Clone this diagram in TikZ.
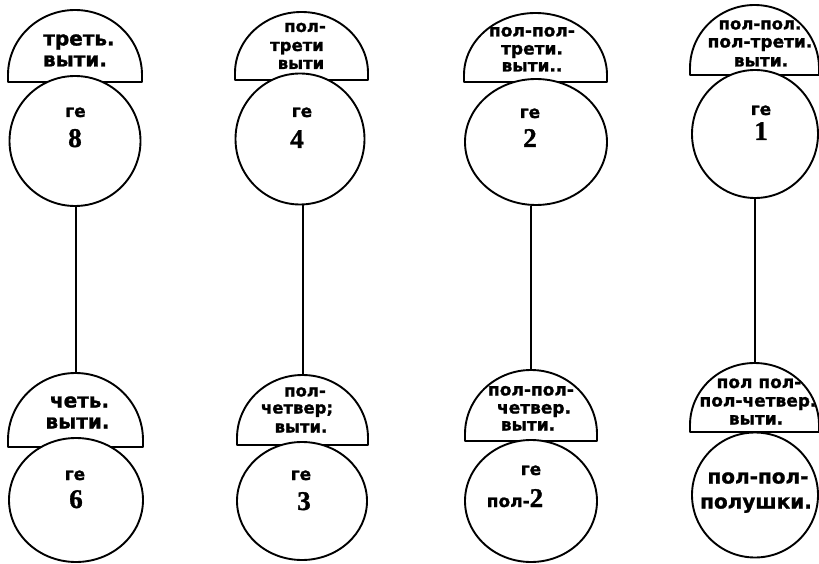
\documentclass[tikz,border=0pt]{standalone}
\usepackage{fontspec}
\setmainfont{DejaVu Sans}[BoldFeatures={FakeBold=1.2}]
\newfontfamily\digf{Liberation Serif}[BoldFeatures={FakeBold=1.2}]
\usetikzlibrary{shapes.geometric}
\tikzset{
  shp/.style={line width=1.9pt, fill=white, line join=round},
  circ/.style={ellipse, draw, line width=1.9pt, fill=white, inner sep=0pt},
  conn/.style={line width=2pt},
  lbl/.style={anchor=base, inner sep=0pt},
  fs/.style={font=\bfseries\fontsize{#1}{#1}\selectfont},
  dg/.style={font=\digf\bfseries\fontsize{27}{27}\selectfont}
}
% #1 name of top coordinate, #2 L, #3 R, #4 T, #5 B, #6 x radius, #7 y radius
\newcommand\mydome[7]{%
  \draw[shp] (#2,#5) -- ++(0,-7) arc[start angle=180,end angle=0,x radius=#6pt,y radius=#7pt] -- (#3,#5) -- cycle;
  \coordinate (#1) at ({(#2+#3)/2},#4);
}
\begin{document}
\begin{tikzpicture}[x=1pt,y=-1pt]
\useasboundingbox[fill=white] (0,0) rectangle (819,564);

% ---------- domes ----------
\mydome{d1t}{8}{142}{10}{82}{67}{65}
\mydome{d2t}{235}{368}{12}{80}{66.5}{61}
\mydome{d3t}{464}{607}{13}{82}{71.5}{62}
\mydome{d4t}{690}{819}{5}{75}{64.5}{63}
\mydome{d1b}{8}{143}{373}{447}{67.5}{67}
\mydome{d2b}{237}{368}{375}{445}{65.5}{63}
\mydome{d3b}{465}{597}{370}{441}{66}{64}
\mydome{d4b}{690}{819}{363}{432}{64.5}{62}

% ---------- circles ----------
\node[circ, minimum width=131pt, minimum height=130pt] (c1t) at (75,141) {};
\node[circ, minimum width=129pt, minimum height=131pt] (c2t) at (300,139) {};
\node[circ, minimum width=142pt, minimum height=126pt] (c3t) at (536,142) {};
\node[circ, minimum width=126pt, minimum height=128pt] (c4t) at (755,134) {};
\node[circ, minimum width=134pt, minimum height=124pt] (c1b) at (76,500) {};
\node[circ, minimum width=130pt, minimum height=118pt] (c2b) at (302,501) {};
\node[circ, minimum width=132pt, minimum height=122pt] (c3b) at (531,501) {};
\node[circ, minimum width=126pt, minimum height=125pt] (c4b) at (755,495) {};

% ---------- connectors ----------
\draw[conn] (d1b) -- (d1b |- c1t.south);
\draw[conn] (d2b) -- (d2b |- c2t.south);
\draw[conn] (d3b) -- (d3b |- c3t.south);
\draw[conn] (d4b) -- (d4b |- c4t.south);

% ---------- column 1 ----------
\node[lbl,fs=20] (a1) at (79,45.5) {треть.};
\node[lbl,fs=20] (a2) at (75,66.5) {выти.};
\node[lbl,fs=17] (a3) at (75.5,117) {ге};
\node[lbl,dg] (a4) at (75,147) {8};
\node[lbl,fs=20] (a5) at (79.5,407.5) {четь.};
\node[lbl,fs=20] (a6) at (77.5,428.5) {выти.};
\node[lbl,fs=17] (a7) at (75,480) {ге};
\node[lbl,dg] (a8) at (76,508) {6};

% ---------- column 2 ----------
\node[lbl,fs=16.5] (b1) at (305,32) {пол-};
\node[lbl,fs=16.5] (b2) at (297,51) {трети};
\node[lbl,fs=16.5] (b3) at (301,69) {выти};
\node[lbl,fs=17] (b4) at (302,117) {ге};
\node[lbl,dg] (b5) at (297,148) {4};
\node[lbl,fs=16.5] (b6) at (305,396.5) {пол-};
\node[lbl,fs=16.5] (b7) at (297,413.5) {четвер;};
\node[lbl,fs=16.5] (b8) at (301,432.5) {выти.};
\node[lbl,fs=17] (b9) at (301,480) {ге};
\node[lbl,dg] (b10) at (304,510) {3};

% ---------- column 3 ----------
\node[lbl,fs=17] (e1) at (532,36.5) {пол-пол-};
\node[lbl,fs=17] (e2) at (532,54.5) {трети.};
\node[lbl,fs=17] (e3) at (532,71.5) {выти..};
\node[lbl,fs=17] (e4) at (530,118) {ге};
\node[lbl,dg] (e5) at (530,147) {2};
\node[lbl,fs=17] (e6) at (531,395.5) {пол-пол-};
\node[lbl,fs=17] (e7) at (534,413.5) {четвер.};
\node[lbl,fs=17] (e8) at (528,430.5) {выти.};
\node[lbl,fs=17] (e9) at (531,475) {ге};
\node[lbl] (e10) at (515,507) {\bfseries\fontsize{17}{17}\selectfont пол-{\digf\fontsize{27}{27}\selectfont 2}};

% ---------- column 4 ----------
\node[lbl,fs=16.5] (f1) at (760,29.5) {пол-пол.};
\node[lbl,fs=17] (f2) at (760,47.5) {пол-трети.};
\node[lbl,fs=17] (f3) at (761,66.5) {выти.};
\node[lbl,fs=17] (f4) at (761,115) {ге};
\node[lbl,dg] (f5) at (761,140) {1};
\node[lbl,fs=17] (f6) at (759,388) {пол пол-};
\node[lbl,fs=17] (f7) at (758,406.5) {пол-четвер.};
\node[lbl,fs=17] (f8) at (756,424.5) {выти.};
\node[lbl,fs=20] (f9) at (758,483.5) {пол-пол-};
\node[lbl,fs=20] (f10) at (756,508.5) {полушки.};
\end{tikzpicture}
\end{document}
